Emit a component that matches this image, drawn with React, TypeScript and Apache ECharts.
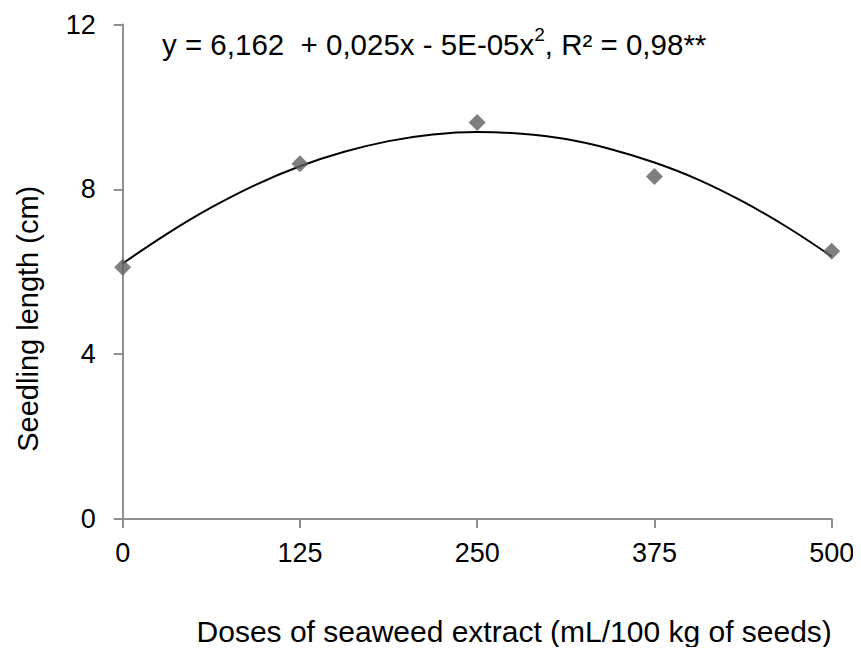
import React, { useEffect, useRef } from "react";
import * as echarts from "echarts";

const doses = [0, 125, 250, 375, 500];
const lengths = [6.11, 8.62, 9.62, 8.31, 6.5];
const trendX = [0, 31.25, 62.5, 93.75, 125, 156.25, 187.5, 218.75, 250, 281.25, 312.5, 343.75, 375, 406.25, 437.5, 468.75, 500];
const trendY = [6.2, 6.92, 7.56, 8.11, 8.56, 8.91, 9.17, 9.33, 9.39, 9.35, 9.22, 8.98, 8.65, 8.23, 7.7, 7.08, 6.37];
const xTicks = [0, 125, 250, 375, 500];
const yTicks = [0, 4, 8, 12];

const xName = "Doses of seaweed extract (mL/100 kg of seeds)";
const yName = "Seedling length (cm)";

export default function App() {
  const ref = useRef<HTMLDivElement>(null);
  useEffect(() => {
    if (!ref.current) return;
    const chart = echarts.init(ref.current, undefined, { renderer: "svg" });
    const font = "'Liberation Sans', Arial, sans-serif";
    const axisColor = "#8f8f8f";
    chart.setOption({
      animation: false,
      backgroundColor: "#ffffff",
      textStyle: { fontFamily: font },
      grid: { left: 122.7, right: 29.3, top: 24.5, bottom: 136, containLabel: false },
      xAxis: {
        type: "value",
        min: xTicks[0],
        max: xTicks[xTicks.length - 1],
        interval: 125,
        name: xName,
        nameLocation: "middle",
        nameGap: 97,
        nameTextStyle: { fontSize: 30, color: "#000", fontFamily: font, padding: [0, 0, 0, 74] },
        axisLine: { show: true, onZero: false, lineStyle: { color: axisColor, width: 2 } },
        axisTick: { show: true, length: 9, lineStyle: { color: axisColor, width: 2 } },
        axisLabel: { fontSize: 27, color: "#000", margin: 20, fontFamily: font },
        splitLine: { show: false },
      },
      yAxis: {
        type: "value",
        min: yTicks[0],
        max: yTicks[yTicks.length - 1],
        interval: 4,
        name: yName,
        nameLocation: "middle",
        nameGap: 80,
        nameRotate: 90,
        nameTextStyle: { fontSize: 29, color: "#000", fontFamily: font, padding: [0, 94, 0, 0] },
        axisLine: { show: true, onZero: false, lineStyle: { color: axisColor, width: 2 } },
        axisTick: { show: true, length: 9, lineStyle: { color: axisColor, width: 2 } },
        axisLabel: { fontSize: 27, color: "#000", margin: 27, fontFamily: font },
        splitLine: { show: false },
      },
      graphic: [
        {
          type: "text",
          left: 162,
          top: 25,
          style: {
            text: "{a|y = 6,162  + 0,025x - 5E-05x}{s|2}{a|, R² = 0,98**}",
            rich: {
              a: { fontSize: 29.5, fontFamily: font, fill: "#000", verticalAlign: "bottom", lineHeight: 34 },
              s: { fontSize: 19, fontFamily: font, fill: "#000", verticalAlign: "top", lineHeight: 34, padding: [0, 0, 12, 0] },
            },
          },
        },
      ],
      series: [
        {
          type: "line",
          data: trendX.map((x, i) => [x, trendY[i]]),
          smooth: 0.4,
          showSymbol: false,
          symbol: "none",
          lineStyle: { color: "#000", width: 2 },
          z: 2,
        },
        {
          type: "scatter",
          data: doses.map((x, i) => [x, lengths[i]]),
          symbol: "diamond",
          symbolSize: [17, 17],
          itemStyle: { color: "#5f5f5f" },
          z: 3,
        },
      ],
    });
    return () => chart.dispose();
  }, []);
  return <div ref={ref} style={{ width: 861, height: 655, margin: -8 }} />;
}
